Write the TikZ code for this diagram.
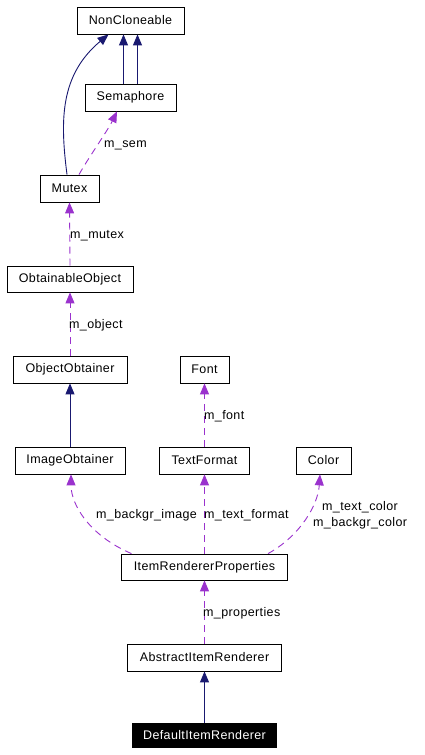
\documentclass[tikz,border=0pt]{standalone}
\usepackage{fontspec}
\setmainfont[LetterSpace=3]{Liberation Sans}
\usetikzlibrary{arrows.meta,calc}
\definecolor{inhc}{RGB}{25,25,112}
\definecolor{usec}{RGB}{154,50,205}
\begin{document}
\begin{tikzpicture}[x=1pt,y=-1pt,
  box/.style={draw=black,line width=0.8pt,fill=white,minimum height=27pt,inner sep=0pt,font=\fontsize{12.5}{14}\selectfont},
  inhedge/.style={draw=inhc,line width=0.9pt,-{Triangle[length=11pt,width=9pt]}},
  useedge/.style={draw=usec,line width=0.9pt,dash pattern=on 7pt off 5pt,-{Triangle[length=11pt,width=9pt]}},
  lbl/.style={anchor=base west,inner sep=0pt,font=\fontsize{12.5}{14}\selectfont}]
\useasboundingbox (0,0) rectangle (425,755);
\node[box,minimum width=107pt] (nc) at (130.5,20.5) {NonCloneable};
\node[box,minimum width=91pt] (sem) at (130.5,97.5) {Semaphore};
\node[box,minimum width=59pt] (mutex) at (69.5,188.5) {Mutex};
\node[box,minimum width=126pt,minimum height=26pt] (oo) at (70,279) {ObtainableObject};
\node[box,minimum width=114pt] (obt) at (70,369.5) {ObjectObtainer};
\node[box,minimum width=49pt] (font) at (204.5,369.5) {Font};
\node[box,minimum width=110pt] (img) at (70,460.5) {ImageObtainer};
\node[box,minimum width=90pt] (tf) at (204.5,460.5) {TextFormat};
\node[box,minimum width=55pt] (color) at (323.5,460.5) {Color};
\node[box,minimum width=166pt,minimum height=26pt] (irp) at (204.5,567) {ItemRendererProperties};
\node[box,minimum width=154pt] (air) at (204.5,657.5) {AbstractItemRenderer};
\node[box,fill=black,text=white,minimum width=144pt,minimum height=24pt] (dir) at (204.5,735) {DefaultItemRenderer};
% inheritance
\draw[inhedge] ($(mutex.north)+(-2.5,0)$) .. controls (60,120) and (60,75) .. ($(nc.south)+(-22,0)$);
\draw[inhedge] ($(sem.north)+(-7,0)$) -- ($(nc.south)+(-7,0)$);
\draw[inhedge] ($(sem.north)+(7,0)$) -- ($(nc.south)+(7,0)$);
\draw[inhedge] (img.north) -- (obt.south);
\draw[inhedge] (dir.north) -- (air.south);
% usage
\draw[useedge] ($(mutex.north)+(9.5,0)$) .. controls (87,160) and (108,130) .. ($(sem.south)+(-13.5,0)$);
\draw[useedge] (oo.north) -- (mutex.south);
\draw[useedge] (obt.north) -- (oo.south);
\draw[useedge] (tf.north) -- (font.south);
\draw[useedge] ($(irp.north)+(-73,0)$) .. controls (90,536) and (71,505) .. ($(img.south)+(1,0)$);
\draw[useedge] (irp.north) -- (tf.south);
\draw[useedge] ($(irp.north)+(63.5,0)$) .. controls (300,536) and (318,505) .. ($(color.south)+(-3.5,0)$);
\draw[useedge] (air.north) -- (irp.south);
% labels
\node[lbl] (l1) at (104,147) {m\_sem};
\node[lbl] (l2) at (70,238) {m\_mutex};
\node[lbl] (l3) at (69,328) {m\_object};
\node[lbl] (l4) at (204,419) {m\_font};
\node[lbl] (l5) at (96,518) {m\_backgr\_image};
\node[lbl] (l6) at (204,518) {m\_text\_format};
\node[lbl] (l7) at (322,510) {m\_text\_color};
\node[lbl] (l8) at (313,526) {m\_backgr\_color};
\node[lbl] (l9) at (203,616) {m\_properties};
\end{tikzpicture}
\end{document}
